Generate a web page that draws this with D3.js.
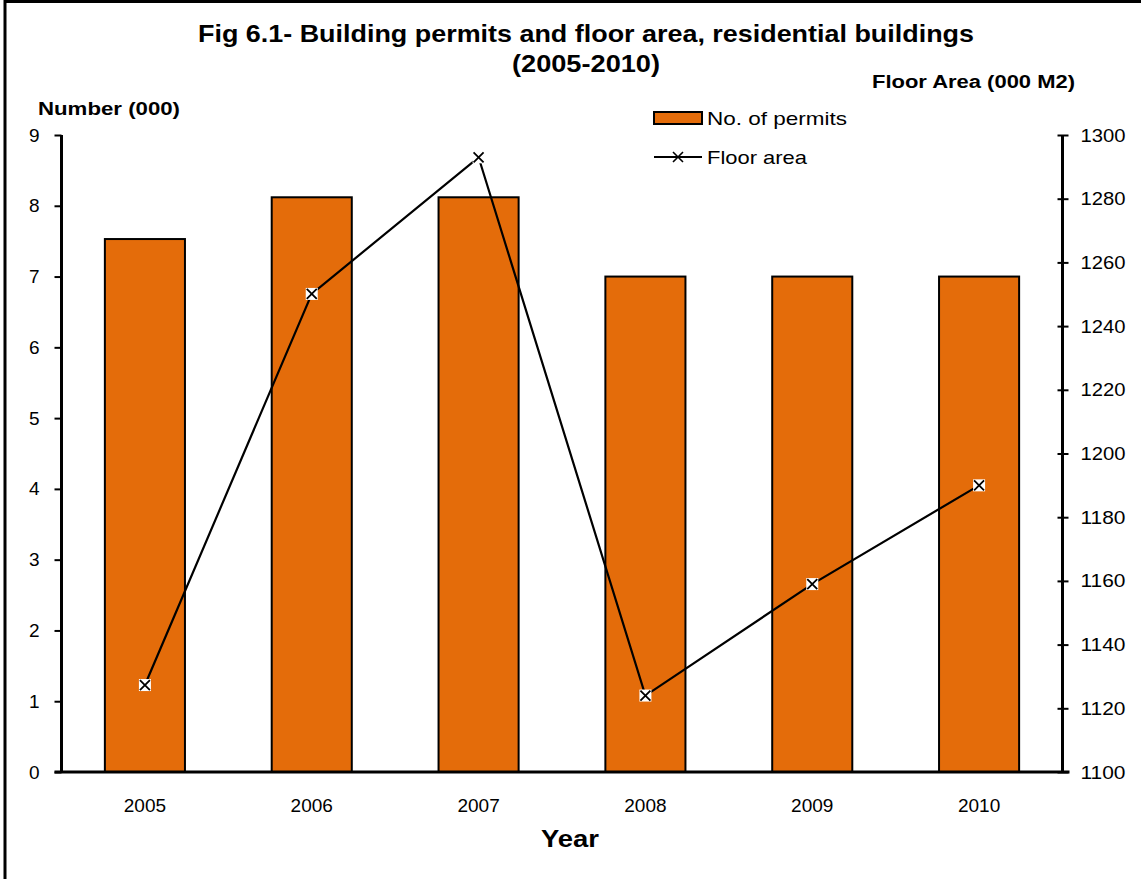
<!DOCTYPE html>
<html><head><meta charset="utf-8">
<script src="https://cdn.jsdelivr.net/npm/d3@7"></script>
<style>body{margin:0;background:#fff}svg{display:block;font-family:"Liberation Sans",Arial,sans-serif}</style>
</head><body>
<svg id="c" width="1141" height="879"></svg>
<script>
const years = ["2005","2006","2007","2008","2009","2010"];
const permits = [7.53, 8.12, 8.12, 7.0, 7.0, 7.0];
const floorArea = [1127.3, 1250.1, 1293.0, 1124.0, 1159.0, 1190.0];
const leftTicks = [0,1,2,3,4,5,6,7,8,9];
const rightTicks = [1100,1120,1140,1160,1180,1200,1220,1240,1260,1280,1300];

const svg = d3.select("#c");
const L = 61.5, R = 1062.5, T = 135, B = 772;
const x = d3.scaleBand().domain(years).range([L, R]).paddingInner(0.52).paddingOuter(0.26);
const yL = d3.scaleLinear().domain([0,9]).range([B, T]);
const yR = d3.scaleLinear().domain([1100,1300]).range([B, T]);
const FONT = "Liberation Sans, Arial, sans-serif";

// outer border
svg.append("rect").attr("x",5).attr("y",1.5).attr("width",1200).attr("height",1000)
  .attr("fill","none").attr("stroke","#000").attr("stroke-width",3);

// bars
svg.selectAll("rect.bar").data(years).enter().append("rect").attr("class","bar")
  .attr("x", d=>x(d)).attr("width", x.bandwidth())
  .attr("y", (d,i)=>yL(permits[i])).attr("height",(d,i)=>B - yL(permits[i]))
  .attr("fill","#E46C0A").attr("stroke","#000").attr("stroke-width",2);

// axes
const axL = svg.append("g").attr("transform",`translate(${L},0)`)
  .call(d3.axisLeft(yL).tickValues(leftTicks).tickFormat(d3.format("d")).tickSize(7).tickPadding(15));
const axR = svg.append("g").attr("transform",`translate(${R},0)`)
  .call(d3.axisRight(yR).tickValues(rightTicks).tickFormat(d3.format("d")).tickSize(6).tickPadding(12));
const axB = svg.append("g").attr("transform",`translate(0,${B})`)
  .call(d3.axisBottom(x).tickSize(0).tickPadding(26));
[axL,axR,axB].forEach(a=>{
  a.attr("font-size",19).attr("font-family",FONT);
  a.selectAll("path.domain").attr("stroke","#000").attr("stroke-width",3);
  a.selectAll(".tick line").attr("stroke","#000").attr("stroke-width",2);
  a.selectAll("text").attr("font-size",19).attr("fill","#000");
});
axL.select("path.domain").attr("d",`M0,${T}V${B}`);
axR.select("path.domain").attr("d",`M0,${T}V${B}`);
axR.selectAll(".tick line").attr("x1",-5).attr("x2",6);
axR.selectAll(".tick text").attr("textLength",45).attr("lengthAdjust","spacingAndGlyphs");
axB.select("path.domain").attr("d",`M${L-7},0H${R+7}`);
axB.selectAll(".tick text").attr("dy",null).attr("y",40);

// line
const cx = (i)=>x(years[i]) + x.bandwidth()/2;
const line = d3.line().x((d,i)=>cx(i)).y(d=>yR(d));
svg.append("path").datum(floorArea).attr("d",line).attr("fill","none")
  .attr("stroke","#000").attr("stroke-width",2.2);
const m = svg.selectAll("g.mk").data(floorArea).enter().append("g")
  .attr("transform",(d,i)=>`translate(${cx(i)},${yR(d)})`);
m.append("rect").attr("x",-6).attr("y",-6).attr("width",12).attr("height",12).attr("fill","#fff");
m.append("path").attr("d","M-5,-5L5,5M-5,5L5,-5").attr("stroke","#000").attr("stroke-width",1.8);

// titles
svg.append("text").attr("x",586).attr("y",42).attr("text-anchor","middle")
  .attr("font-size",24).attr("font-weight","bold").attr("textLength",776).attr("lengthAdjust","spacingAndGlyphs")
  .text("Fig 6.1- Building permits and floor area, residential buildings");
svg.append("text").attr("x",586).attr("y",72).attr("text-anchor","middle")
  .attr("font-size",24).attr("font-weight","bold").attr("textLength",148).attr("lengthAdjust","spacingAndGlyphs")
  .text("(2005-2010)");
svg.append("text").attr("x",38).attr("y",115).attr("font-size",18).attr("font-weight","bold")
  .attr("textLength",142).attr("lengthAdjust","spacingAndGlyphs").text("Number (000)");
svg.append("text").attr("x",872).attr("y",88).attr("font-size",18).attr("font-weight","bold")
  .attr("textLength",203).attr("lengthAdjust","spacingAndGlyphs").text("Floor Area (000 M2)");
svg.append("text").attr("x",541).attr("y",847).attr("font-size",24).attr("font-weight","bold")
  .attr("textLength",58).attr("lengthAdjust","spacingAndGlyphs").text("Year");

// legend
const lg = svg.append("g");
lg.append("rect").attr("x",654).attr("y",112).attr("width",48).attr("height",12)
  .attr("fill","#E46C0A").attr("stroke","#000").attr("stroke-width",2);
lg.append("text").attr("x",707).attr("y",125).attr("font-size",19)
  .attr("textLength",140).attr("lengthAdjust","spacingAndGlyphs").text("No. of permits");
lg.append("line").attr("x1",654).attr("x2",702).attr("y1",157).attr("y2",157).attr("stroke","#000").attr("stroke-width",2);
lg.append("path").attr("d","M673,152L683,162M673,162L683,152").attr("stroke","#000").attr("stroke-width",1.6);
lg.append("text").attr("x",707).attr("y",164).attr("font-size",19)
  .attr("textLength",100).attr("lengthAdjust","spacingAndGlyphs").text("Floor area");
</script>
</body></html>
